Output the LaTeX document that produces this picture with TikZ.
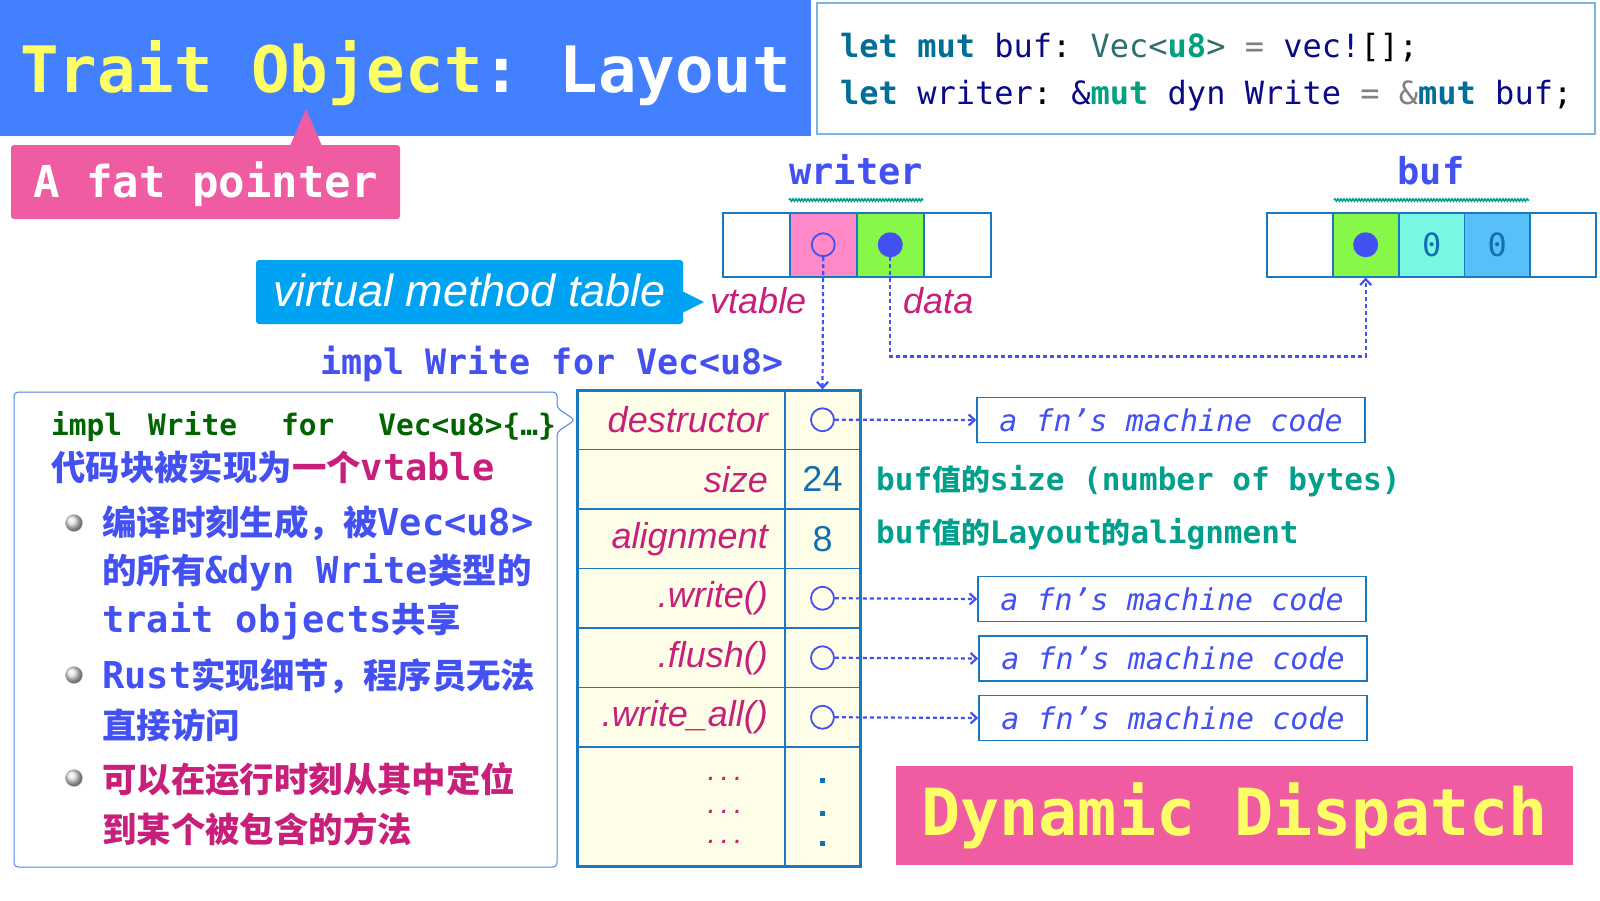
\documentclass[tikz,border=0pt]{standalone}
\usepackage{fontspec}
\setmainfont{Liberation Sans}
\setmonofont{DejaVu Sans Mono}
\newfontfamily\cjk[Scale=0.93]{Noto Sans CJK SC}
\usetikzlibrary{decorations.pathmorphing,shadings,arrows.meta}
\definecolor{titleblue}{HTML}{4280FF}
\definecolor{titleyellow}{HTML}{FFFF66}
\definecolor{fatpink}{HTML}{F05CA2}
\definecolor{vmtblue}{HTML}{00A2F2}
\definecolor{magentatxt}{HTML}{C8207A}
\definecolor{indigo}{HTML}{4350F2}
\definecolor{tealtxt}{HTML}{00A08C}
\definecolor{cellborder}{HTML}{1A78C0}
\definecolor{tablebg}{HTML}{FEFEE8}
\definecolor{pinkcell}{HTML}{FF88C8}
\definecolor{greencell}{HTML}{88F848}
\definecolor{cyancell}{HTML}{78F8E2}
\definecolor{skycell}{HTML}{58C0F8}
\definecolor{darkgreen}{HTML}{006400}
\definecolor{numblue}{HTML}{1070B0}
\definecolor{kwteal}{HTML}{006E96}
\definecolor{navy}{HTML}{0A0A88}
\definecolor{vecteal}{HTML}{2F6F6F}
\definecolor{mutgreen}{HTML}{00A080}
\definecolor{codeborder}{HTML}{7AB4E0}
\definecolor{lboxblue}{HTML}{4A86F0}
\newcommand{\zh}[1]{{\cjk\bfseries #1}}
\newcommand{\kw}[1]{{\bfseries\color{kwteal}#1}}
\newcommand{\nv}[1]{{\color{navy}#1}}
\begin{document}
\begin{tikzpicture}[x=1pt,y=-1pt,
  cell/.style={draw=cellborder,line width=1.5,minimum width=67,minimum height=64,inner sep=0,anchor=north west},
  bcell/.style={cell,minimum width=65.8},
  opendot/.style={circle,draw=indigo,line width=1.8,minimum size=23,inner sep=0},
  fulldot/.style={circle,fill=indigo,minimum size=25,inner sep=0},
  squiggle/.style={tealtxt,line width=1.5,decorate,decoration={snake,amplitude=1.2,segment length=3}},
  ptr/.style={indigo,line width=2.2,dash pattern=on 4pt off 3pt,-{Straight Barb[length=6pt,width=11pt]}},
  lcell/.style={draw=cellborder,line width=1.2,minimum width=208,minimum height=59.5,inner sep=0},
  rcell/.style={draw=cellborder,line width=1.2,minimum width=75,minimum height=59.5,inner sep=0},
  lab/.style={anchor=east,inner sep=0,font=\fontsize{36}{36}\selectfont\itshape,text=magentatxt},
  mcbox/.style={draw=cellborder,line width=1.5,minimum width=388,minimum height=45,inner sep=0,
    font=\fontsize{30}{30}\ttfamily\itshape,text=indigo},
  zhline/.style={anchor=base west,inner sep=0,font=\fontsize{37}{37}\ttfamily\bfseries},
  bullet/.style={circle,minimum size=17,inner sep=0,ball color=gray!20,draw=gray!50,line width=0.3}]
\useasboundingbox[fill=white] (0,0) rectangle (1600,900);

% title
\fill[titleblue] (0,0) rectangle (811,136);
\node[anchor=base west,inner sep=0] (title) at (20,92)
  {\fontsize{64}{64}\ttfamily\bfseries\color{titleyellow}Trait Object\color{white}: Layout};

% code
\draw[codeborder,line width=1.5] (817,3) rectangle (1595,134);
\node[anchor=base west,inner sep=0,font=\fontsize{32}{32}\ttfamily] (code1) at (840,57)
  {\kw{let} \kw{mut} \nv{buf}: \textcolor{vecteal}{Vec<}{\bfseries\color{mutgreen}u8}\textcolor{vecteal}{>} \textcolor{gray}{=} \nv{vec!}[];};
\node[anchor=base west,inner sep=0,font=\fontsize{32}{32}\ttfamily] (code2) at (840,104)
  {\kw{let} \nv{writer}: \nv{\&}{\bfseries\color{mutgreen}mut} \nv{dyn Write} \textcolor{gray}{=} \textcolor{gray}{\&}\kw{mut} \nv{buf};};

% fat pointer
\fill[fatpink,rounded corners=3] (11,145) rectangle (400,219);
\fill[fatpink] (290,146) -- (306,109) -- (322,146) -- cycle;
\node[anchor=base west,inner sep=0] (fat) at (33,197)
  {\fontsize{44}{44}\ttfamily\bfseries\color{white}A fat pointer};

% writer
\node[anchor=base,inner sep=0,font=\fontsize{37}{37}\ttfamily\bfseries,text=indigo] (wlabel) at (856,184) {writer};
\draw[squiggle] (789,200) -- (923,200);
\foreach \x/\c [count=\i] in {722/white,789/pinkcell,856/greencell,923/white}
  \node[cell,fill=\c] (w\i) at (\x,212) {};
\node[opendot] (wvt) at (w2) {};
\node[fulldot] (wdat) at (w3) {};

% buf
\node[anchor=base,inner sep=0,font=\fontsize{37}{37}\ttfamily\bfseries,text=indigo] (blabel) at (1431,184) {buf};
\draw[squiggle] (1334,200) -- (1529,200);
\foreach \x/\c/\t [count=\i] in {1266/white/,1332/greencell/,1398/cyancell/0,1463.5/skycell/0,1529.5/white/}
  \node[bcell,fill=\c,font=\fontsize{32}{32}\ttfamily,text=numblue] (b\i) at (\x,212) {\t};
\node[fulldot] (bptr) at (b2) {};

% vtable callout
\fill[vmtblue,rounded corners=3] (256,260) rectangle (683,324);
\fill[vmtblue] (682,291) -- (704,302) -- (682,313) -- cycle;
\node[anchor=base west,inner sep=0,font=\fontsize{45}{45}\selectfont\itshape,text=white] (vmt) at (273,306) {virtual method table};
\node[anchor=base west,inner sep=0,font=\fontsize{36}{36}\selectfont\itshape,text=magentatxt] (vtlab) at (710,313) {vtable};
\node[anchor=base west,inner sep=0,font=\fontsize{36}{36}\selectfont\itshape,text=magentatxt] (dlab) at (903,313) {data};

\node[anchor=base west,inner sep=0,font=\fontsize{35}{35}\ttfamily\bfseries,text=indigo] (impl) at (320,374) {impl Write for Vec<u8>};

% left note
\draw[lboxblue,line width=1,rounded corners=4] (14,392) -- (557,392) -- (557,408) -- (575,420)
  -- (557,432) -- (557,867) -- (14,867) -- cycle;
\node[anchor=base west,inner sep=0,font=\fontsize{29.5}{30}\ttfamily\bfseries,text=darkgreen] (n0) at (51,435)
  {impl\hspace{26pt}Write\hspace{44pt}for\hspace{44pt}Vec<u8>\{…\}};
\node[zhline,text=indigo] (n1) at (51,480) {\zh{代码块被实现为}\textcolor{magentatxt}{\zh{一个}vtable}};
\node[bullet] (p1) at (74,523) {};
\node[bullet] (p2) at (74,675) {};
\node[bullet] (p3) at (74,778) {};
\node[zhline,text=indigo] (n2) at (102,535) {\zh{编译时刻生成，被}Vec<u8>};
\node[zhline,text=indigo] (n3) at (102,583) {\zh{的所有}\&dyn Write\zh{类型的}};
\node[zhline,text=indigo] (n4) at (102,632) {trait objects\zh{共享}};
\node[zhline,text=indigo] (n5) at (102,688) {Rust\zh{实现细节，程序员无法}};
\node[zhline,text=indigo] (n6) at (102,738) {\zh{直接访问}};
\node[zhline,text=magentatxt] (n7) at (102,792) {\zh{可以在运行时刻从其中定位}};
\node[zhline,text=magentatxt] (n8) at (102,842) {\zh{到某个被包含的方法}};

% vtable
\fill[tablebg] (577,390) rectangle (860,866);
\foreach \t/\v [count=\i] in {destructor/,size/24,alignment/8,.write()/,.flush()/,.write\_all()/} {
  \node[lcell] (l\i) at (681,{390+59.5*(\i-0.5)}) {};
  \node[rcell,font=\fontsize{36}{36}\selectfont,text=numblue] (r\i) at (822.5,{390+59.5*(\i-0.5)}) {\v};
  \node[lab] (t\i) at (768,{390+59.5*(\i-0.5)}) {\t};
}
\node[lcell,minimum height=119] (l7) at (681,806.5) {};
\node[rcell,minimum height=119] (r7) at (822.5,806.5) {};
\foreach \y in {777,810,840} {
  \node[anchor=base,inner sep=0,font=\fontsize{30}{30}\selectfont\itshape,text=magentatxt] at (725,\y+3) {.\,.\,.};
  \fill[numblue] (820,\y+1) rectangle (825,\y+6);
}
\draw[cellborder,line width=3] (577,390) rectangle (860,866);
\foreach \i in {1,4,5,6}
  \node[opendot] (c\i) at (r\i) {};

% machine code
\node[mcbox] (mc1) at (1171,420) {a fn’s machine code};
\node[mcbox] (mc4) at (1172,599) {a fn’s machine code};
\node[mcbox] (mc5) at (1173,658.5) {a fn’s machine code};
\node[mcbox] (mc6) at (1173,718) {a fn’s machine code};
\foreach \i in {1,4,5,6}
  \draw[ptr] (c\i.east) -- (mc\i.west);

\node[anchor=base west,inner sep=0,font=\fontsize{31}{31}\ttfamily\bfseries,text=tealtxt] (sz) at (876,490) {buf\zh{值的}size (number of bytes)};
\node[anchor=base west,inner sep=0,font=\fontsize{31}{31}\ttfamily\bfseries,text=tealtxt] (al) at (876,543) {buf\zh{值的}Layout\zh{的}alignment};

% pointers
\draw[ptr] (wvt.south) -- (r1.north);
\draw[ptr] (wdat.south) -- ++(0,99) -| (b2.south);

% dynamic dispatch
\fill[fatpink] (896,766) rectangle (1573,865);
\node[inner sep=0,font=\fontsize{65}{65}\ttfamily\bfseries,text=titleyellow] (dd) at (1234.5,815.5) {Dynamic Dispatch};
\end{tikzpicture}
\end{document}
